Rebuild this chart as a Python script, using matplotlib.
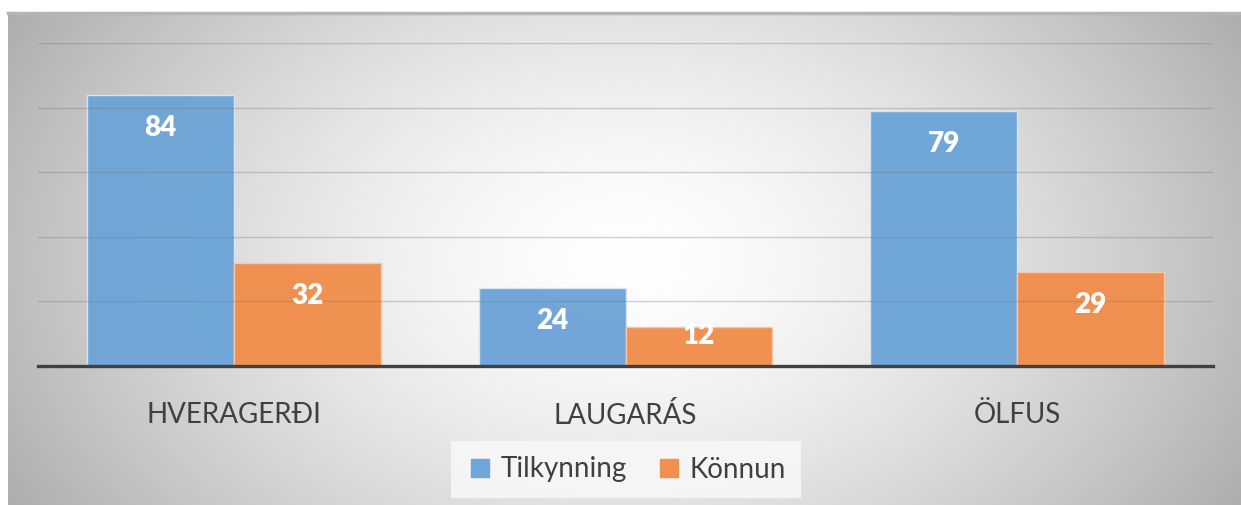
import numpy as np
import matplotlib
matplotlib.use("Agg")
import matplotlib.pyplot as plt
from matplotlib.lines import Line2D

categories = ["HVERAGERÐI", "LAUGARÁS", "ÖLFUS"]
series_names = ["Tilkynning", "Könnun"]
tilkynning = [84, 24, 79]
konnun = [32, 12, 29]
colors = ["#6fa5d8", "#f08f4e"]

W, H = 1241, 505
fig = plt.figure(figsize=(W / 100, H / 100), dpi=100)
fig.patch.set_facecolor("white")
plt.rcParams["font.family"] = ["Lato", "DejaVu Sans"]

# Background with radial gradient
bx0, by0 = 8, 13
bg = fig.add_axes([bx0 / W, 0, 1 - bx0 / W, (H - by0) / H])
bg.set_axis_off()
nx, ny = 400, 200
xs = np.linspace(bx0, W, nx)
ys = np.linspace(by0, H, ny)
X, Y = np.meshgrid(xs, ys)
cx, cy = 625, 260
r = np.sqrt(((X - cx) / 620) ** 2 + ((Y - cy) / 430) ** 2)
c = 1 - 0.26 * np.clip(r, 0, 1.25) ** 1.5
img = np.dstack([c, c, c])
bg.imshow(img, extent=[0, 1, 0, 1], aspect="auto", origin="upper")
bg.set_xlim(0, 1)
bg.set_ylim(0, 1)
bg.plot([0, 1], [1, 1], color="#b5b5b5", lw=2.5, clip_on=False)

# Main axes
left, right, bottom_px, top_px = 38, 1213, 366, 43
ax = fig.add_axes([left / W, (H - bottom_px) / H, (right - left) / W, (bottom_px - top_px) / H])
ax.patch.set_alpha(0)
ax.set_xlim(-0.5, len(categories) - 0.5)
ax.set_ylim(0, 100)
for s in ax.spines.values():
    s.set_visible(False)
ax.set_yticks([])
ax.tick_params(axis="x", length=0, pad=26, labelsize=20, labelcolor="#404040")

x = np.arange(len(categories))
bw = 0.375
for i, (vals, col) in enumerate(zip([tilkynning, konnun], colors)):
    pos = x + (i - 0.5) * bw
    ax.bar(pos, vals, width=bw, color=col, edgecolor="#d8e6f4" if i == 0 else "#f8c9a8",
           linewidth=1, zorder=2, alpha=0.98)
    for p, v in zip(pos, vals):
        ly = v - 10.2 if v > 20 else v - 2.7
        ax.text(p, ly, str(v), ha="center", va="center", color="white",
                fontsize=20, fontweight="heavy", zorder=4)

for g in [20, 40, 60, 80, 100]:
    ax.axhline(g, color="#7a7a7a", lw=1, alpha=0.35, zorder=3)
ax.axhline(0, color="#404040", lw=2.4, zorder=5, clip_on=False)

ax.set_xticks(x)
ax.set_xticklabels(categories)

handles = [Line2D([], [], marker="s", linestyle="none", markersize=12.5,
                  markerfacecolor=col, markeredgecolor=col) for col in colors]
leg = fig.legend(handles, series_names, loc="center", bbox_to_anchor=(626 / W, 1 - 469.5 / H),
                 ncol=2, frameon=True, fontsize=20, handlelength=1.0, handletextpad=0.25,
                 columnspacing=1.0, borderpad=0.55, borderaxespad=0, fancybox=False,
                 labelcolor="#404040")
leg.get_frame().set_facecolor("#f7f7f7")
leg.get_frame().set_edgecolor("none")
leg.get_frame().set_alpha(0.9)

fig.savefig("out.png", dpi=100, facecolor="white")
